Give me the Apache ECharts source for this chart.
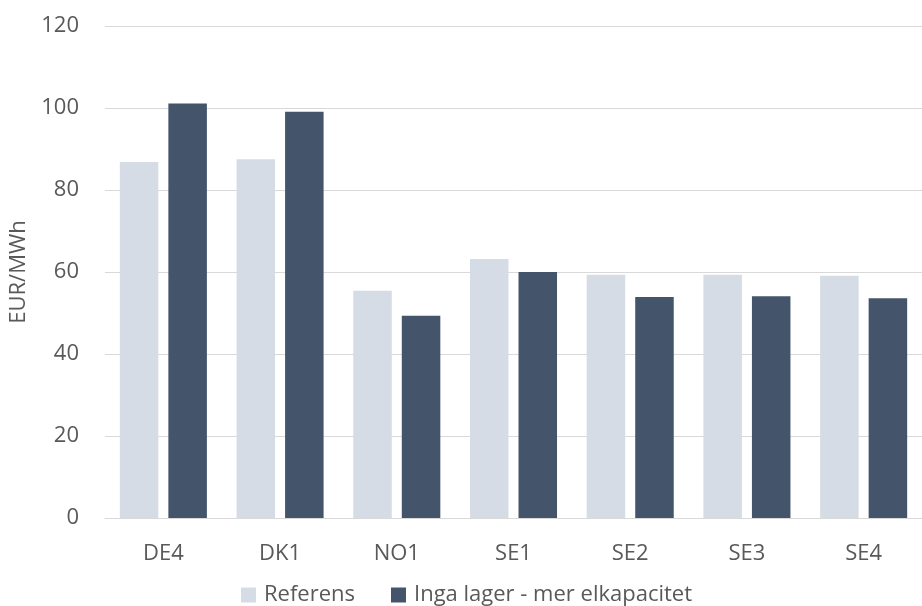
<!DOCTYPE html>
<html>
<head>
<meta charset="utf-8">
<script src="https://cdn.jsdelivr.net/npm/echarts@6/dist/echarts.min.js"></script>
<style>
  html, body { margin: 0; padding: 0; background: #fff; }
  #chart { width: 922px; height: 606px; }
</style>
</head>
<body>
<div id="chart"></div>
<script>
// Price areas and average electricity prices (EUR/MWh) per scenario
const categories = ['DE4', 'DK1', 'NO1', 'SE1', 'SE2', 'SE3', 'SE4'];
const referens = [86.8, 87.5, 55.4, 63.2, 59.3, 59.3, 59.1];
const ingaLager = [101.1, 99.1, 49.3, 60.0, 53.9, 54.1, 53.6];
const seriesNames = ['Referens', 'Inga lager - mer elkapacitet'];
const yTicks = { min: 0, max: 120, interval: 20 };

const font = '"Open Sans", "Noto Sans", sans-serif';
const textColor = '#595959';

const chart = echarts.init(document.getElementById('chart'));
chart.setOption({
  animation: false,
  textStyle: { fontFamily: font },
  grid: { left: 103, right: 0, top: 26, bottom: 88 },
  legend: {
    top: 584,
    left: 241,
    padding: 0,
    itemWidth: 15,
    itemHeight: 15,
    itemGap: 36,
    icon: 'rect',
    textStyle: { fontSize: 22, color: textColor, fontFamily: font, padding: [0, 0, 0, 3] }
  },
  xAxis: {
    type: 'category',
    data: categories,
    axisLine: { lineStyle: { color: '#D9D9D9', width: 1 } },
    axisTick: { show: false },
    axisLabel: { color: textColor, fontSize: 22, margin: 25, fontFamily: font }
  },
  yAxis: {
    type: 'value',
    min: yTicks.min,
    max: yTicks.max,
    interval: yTicks.interval,
    name: 'EUR/MWh',
    nameLocation: 'middle',
    nameGap: 75,
    nameRotate: 90,
    nameTextStyle: { color: textColor, fontSize: 22, fontFamily: font },
    axisLine: { show: false },
    axisTick: { show: false },
    axisLabel: { color: textColor, fontSize: 22, margin: 26, fontFamily: font },
    splitLine: { lineStyle: { color: '#D9D9D9', width: 1 } }
  },
  series: [
    {
      name: seriesNames[0],
      type: 'bar',
      data: referens,
      barWidth: '33%',
      barGap: '26%',
      itemStyle: { color: '#D6DCE5' }
    },
    {
      name: seriesNames[1],
      type: 'bar',
      data: ingaLager,
      barWidth: '33%',
      barGap: '26%',
      itemStyle: { color: '#44546A' }
    }
  ]
});
</script>
</body>
</html>
